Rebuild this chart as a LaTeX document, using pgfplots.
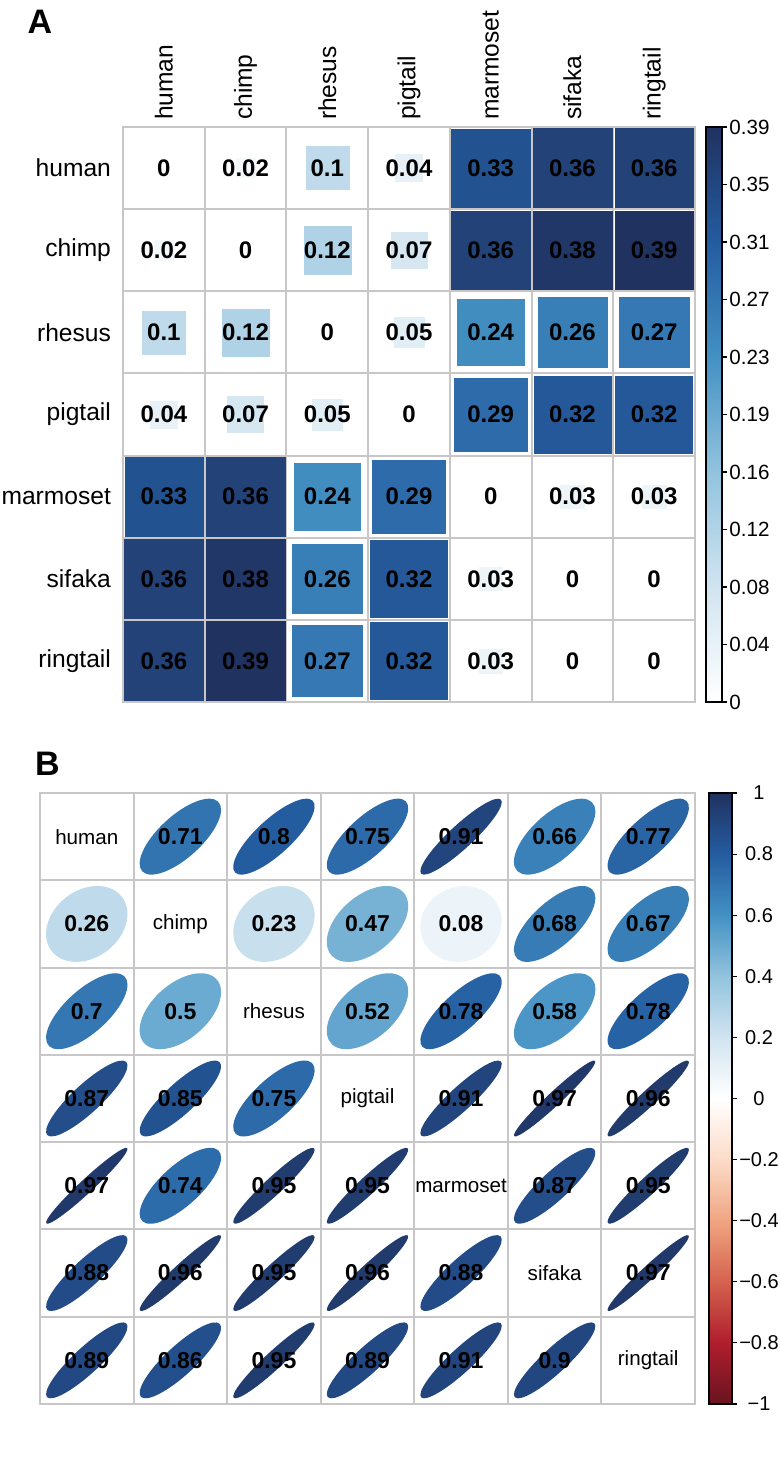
\documentclass[border=0pt]{standalone}
\usepackage{fontspec}
\setmainfont{Liberation Sans}
\usepackage{pgfplots}
\usepackage{pgfplotstable}
\pgfplotsset{compat=1.18}

\definecolor{gridgray}{RGB}{200,198,198}

% ellipse of a correlation r (corrplot style), cell 46.79pt x 43.64pt
\pgfdeclareplotmark{correll}{%
  \pgfmathsetmacro\dd{acos(\rr)/2}%
  \pgfmathsetmacro\ea{0.435*cos(\dd)}%
  \pgfmathsetmacro\eb{0.435*sin(\dd)}%
  \pgfpathellipse{\pgfpointorigin}%
    {\pgfpoint{\ea*46.79pt}{\ea*43.64pt}}%
    {\pgfpoint{-\eb*46.79pt}{\eb*43.64pt}}%
  \pgfusepathqfill}

\pgfplotsset{
  colormap={bluesA}{rgb255=(255,255,255) rgb255=(209,228,240) rgb255=(146,195,222)
    rgb255=(67,145,195) rgb255=(36,92,160) rgb255=(32,50,96)},
  colormap={rdbu}{rgb255=(105,20,32) rgb255=(175,30,45) rgb255=(212,98,78)
    rgb255=(240,165,130) rgb255=(252,220,200) rgb255=(255,255,255)
    rgb255=(209,228,240) rgb255=(146,195,222) rgb255=(67,145,195)
    rgb255=(36,92,160) rgb255=(32,50,96)},
  cellgrid/.style={
    scale only axis,
    xmin=0.5, xmax=7.5, ymin=0.5, ymax=7.5,
    xtick={1,...,7}, ytick={1,...,7},
    minor xtick={1.5,2.5,...,6.5}, minor ytick={1.5,2.5,...,6.5},
    xminorgrids, yminorgrids,
    minor grid style={draw=gridgray, line width=1pt},
    axis line style={draw=gridgray, line width=1.3pt},
    major tick length=0pt, minor tick length=0pt,
    /pgf/number format/fixed,
    /pgf/number format/precision=2,
    /pgf/number format/assume math mode=true,
  },
}

% panel A: distance matrix (row y=7 is human)
\pgfplotstableread{
x y v
1 7 0
2 7 0.02
3 7 0.1
4 7 0.04
5 7 0.33
6 7 0.36
7 7 0.36
1 6 0.02
2 6 0
3 6 0.12
4 6 0.07
5 6 0.36
6 6 0.38
7 6 0.39
1 5 0.1
2 5 0.12
3 5 0
4 5 0.05
5 5 0.24
6 5 0.26
7 5 0.27
1 4 0.04
2 4 0.07
3 4 0.05
4 4 0
5 4 0.29
6 4 0.32
7 4 0.32
1 3 0.33
2 3 0.36
3 3 0.24
4 3 0.29
5 3 0
6 3 0.03
7 3 0.03
1 2 0.36
2 2 0.38
3 2 0.26
4 2 0.32
5 2 0.03
6 2 0
7 2 0
1 1 0.36
2 1 0.39
3 1 0.27
4 1 0.32
5 1 0.03
6 1 0
7 1 0
}\tabA

% panel B: correlations
\pgfplotstableread{
x y r
2 7 0.71
3 7 0.8
4 7 0.75
5 7 0.91
6 7 0.66
7 7 0.77
1 6 0.26
3 6 0.23
4 6 0.47
5 6 0.08
6 6 0.68
7 6 0.67
1 5 0.7
2 5 0.5
4 5 0.52
5 5 0.78
6 5 0.58
7 5 0.78
1 4 0.87
2 4 0.85
3 4 0.75
5 4 0.91
6 4 0.97
7 4 0.96
1 3 0.97
2 3 0.74
3 3 0.95
4 3 0.95
6 3 0.87
7 3 0.95
1 2 0.88
2 2 0.96
3 2 0.95
4 2 0.96
5 2 0.88
7 2 0.97
1 1 0.89
2 1 0.86
3 1 0.95
4 1 0.89
5 1 0.91
6 1 0.9
}\tabB

\begin{document}
\begin{tikzpicture}
\useasboundingbox (0,0) rectangle (390pt,-731pt);

\node[font=\fontsize{17}{17}\selectfont\bfseries] at (20pt,-11pt) {A};
\node[font=\fontsize{17}{17}\selectfont\bfseries] at (23.75pt,-382pt) {B};

% ---------- panel A ----------
\begin{axis}[
  cellgrid,
  at={(61.5pt,-63.5pt)}, anchor=north west,
  width=286pt, height=287.5pt,
  xticklabels={human,chimp,rhesus,pigtail,marmoset,sifaka,ringtail},
  yticklabels={ringtail,sifaka,marmoset,pigtail,rhesus,chimp,human},
  xticklabel pos=upper,
  xticklabel style={rotate=90, anchor=west, font=\fontsize{12.3}{13}\selectfont},
  yticklabel style={font=\fontsize{12.3}{13}\selectfont, xshift=-2.5pt},
  colormap name=bluesA,
  point meta min=0, point meta max=0.39,
  colorbar,
  colorbar shift/.style={xshift=5.5pt},
  colorbar style={
    at={(parent axis.north east)}, anchor=north west,
    width=8pt,
    ytick={0,0.039,0.078,0.117,0.156,0.195,0.234,0.273,0.312,0.351,0.39},
    yticklabels={0,0.04,0.08,0.12,0.16,0.19,0.23,0.27,0.31,0.35,0.39},
    ytick pos=right, yticklabel pos=right,
    tick align=outside, major tick length=2.5pt,
    ytick style={black, line width=0.6pt},
    axis line style={black, line width=0.8pt},
    yticklabel style={font=\fontsize{10.3}{11}\selectfont, inner sep=1pt},
  },
]
\addplot[scatter, only marks, mark=square*, point meta=explicit,
  scatter/use mapped color={draw=mapped color, fill=mapped color},
  mark options={line width=0.2pt},
  visualization depends on={min(34*sqrt(\thisrow{v}),19.7) \as \hs},
  scatter/@pre marker code/.append style={/tikz/mark size=\hs pt},
] table[meta=v] {\tabA};
\addplot[draw=none, mark=none, point meta=explicit,
  nodes near coords, nodes near coords align=center,
  nodes near coords style={text=black, font=\fontsize{12}{12}\selectfont\bfseries},
] table[meta=v] {\tabA};
\end{axis}

% ---------- panel B ----------
\begin{axis}[
  cellgrid,
  at={(20pt,-396.5pt)}, anchor=north west,
  width=327.5pt, height=305.5pt,
  xticklabels={}, yticklabels={},
  colormap name=rdbu,
  point meta min=-1, point meta max=1,
  colorbar,
  colorbar shift/.style={xshift=7pt},
  colorbar style={
    at={(parent axis.north east)}, anchor=north west,
    width=11.5pt,
    ytick={-1,-0.8,-0.6,-0.4,-0.2,0,0.2,0.4,0.6,0.8,1},
    yticklabels={−1,−0.8,−0.6,−0.4,−0.2,0,0.2,0.4,0.6,0.8,1},
    ytick pos=right, yticklabel pos=right,
    tick align=outside, major tick length=2.5pt,
    ytick style={black, line width=0.6pt},
    axis line style={black, line width=0.8pt},
    yticklabel style={font=\fontsize{10}{11}\selectfont, anchor=center, xshift=11pt},
  },
]
\addplot[scatter, only marks, mark=correll, point meta=explicit,
  scatter/use mapped color={draw=mapped color, fill=mapped color},
  visualization depends on={\thisrow{r} \as \rr},
] table[meta=r] {\tabB};
\addplot[draw=none, mark=none, point meta=explicit,
  nodes near coords, nodes near coords align=center,
  nodes near coords style={text=black, font=\fontsize{11.5}{11.5}\selectfont\bfseries},
] table[meta=r] {\tabB};
\addplot[draw=none, mark=none, point meta=explicit symbolic,
  nodes near coords, nodes near coords align=center,
  nodes near coords style={text=black, font=\fontsize{10.3}{11}\selectfont},
] table[meta=lab] {
x y lab
1 7 human
2 6 chimp
3 5 rhesus
4 4 pigtail
5 3 marmoset
6 2 sifaka
7 1 ringtail
};
\end{axis}
\end{tikzpicture}
\end{document}
